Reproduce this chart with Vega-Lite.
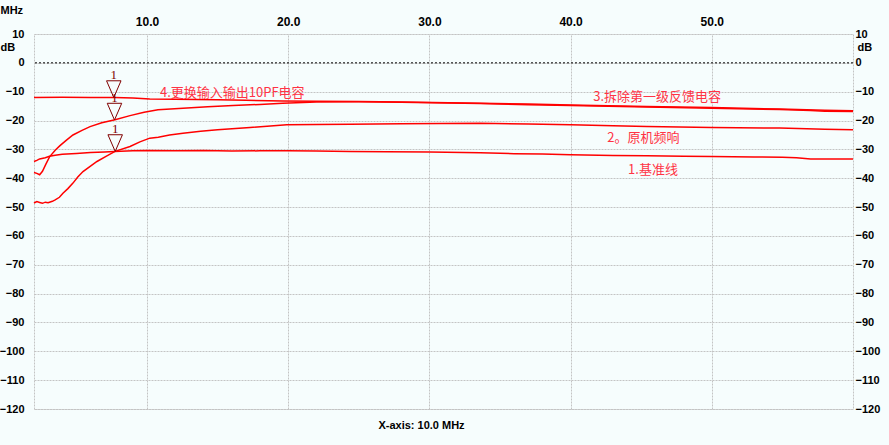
{
  "$schema": "https://vega.github.io/schema/vega-lite/v6.json",
  "width": 819,
  "height": 375,
  "autosize": "none",
  "padding": {"left": 34, "top": 34, "right": 36, "bottom": 36},
  "background": "#f6fdfd",
  "view": {"stroke": "#c4c4c4", "strokeDash": [2, 1], "strokeWidth": 1, "fill": "#f6fdfd"},
  "title": {"text": "X-axis: 10.0 MHz", "orient": "bottom", "anchor": "middle", "dx": -22, "offset": 6, "font": "Liberation Sans", "fontSize": 11, "fontWeight": "bold", "color": "#000000", "baseline": "top"},
  "config": {
    "axis": {"labelFont": "Liberation Sans", "labelFontSize": 11, "labelFontWeight": "bold", "labelColor": "#000000", "titleFont": "Liberation Sans", "titleFontSize": 11, "titleFontWeight": "bold", "titleColor": "#000000", "ticks": false, "domain": false, "gridColor": "#c4c4c4", "gridDash": [2, 1], "gridWidth": 1, "labelOverlap": false, "labelFlush": false}
  },
  "datasets": {
    "curves": [
      {"f": 2.0, "db": -34.2, "s": "1"}, {"f": 2.2, "db": -33.8, "s": "1"}, {"f": 2.4, "db": -33.3, "s": "1"}, {"f": 2.8, "db": -32.9, "s": "1"}, {"f": 3.1, "db": -32.4, "s": "1"}, {"f": 3.5, "db": -32.0, "s": "1"}, {"f": 4.0, "db": -31.7, "s": "1"}, {"f": 5.0, "db": -31.4, "s": "1"}, {"f": 6.0, "db": -31.1, "s": "1"}, {"f": 7.0, "db": -30.9, "s": "1"}, {"f": 7.7, "db": -30.7, "s": "1"}, {"f": 9.0, "db": -30.5, "s": "1"}, {"f": 10.0, "db": -30.4, "s": "1"}, {"f": 12, "db": -30.5, "s": "1"}, {"f": 14, "db": -30.4, "s": "1"}, {"f": 16, "db": -30.6, "s": "1"}, {"f": 18, "db": -30.5, "s": "1"}, {"f": 20, "db": -30.5, "s": "1"}, {"f": 22, "db": -30.6, "s": "1"}, {"f": 24.4, "db": -30.7, "s": "1"}, {"f": 27, "db": -30.8, "s": "1"}, {"f": 30, "db": -30.9, "s": "1"}, {"f": 33.6, "db": -31.2, "s": "1"}, {"f": 36, "db": -31.5, "s": "1"}, {"f": 38, "db": -31.6, "s": "1"}, {"f": 40, "db": -31.9, "s": "1"}, {"f": 43, "db": -32.1, "s": "1"}, {"f": 45.4, "db": -32.2, "s": "1"}, {"f": 48, "db": -32.4, "s": "1"}, {"f": 50, "db": -32.5, "s": "1"}, {"f": 53, "db": -32.6, "s": "1"}, {"f": 55, "db": -32.7, "s": "1"}, {"f": 56, "db": -32.9, "s": "1"}, {"f": 57, "db": -33.3, "s": "1"}, {"f": 60, "db": -33.3, "s": "1"},
      {"f": 2.0, "db": -48.6, "s": "2"}, {"f": 2.2, "db": -48.1, "s": "2"}, {"f": 2.4, "db": -48.4, "s": "2"}, {"f": 2.6, "db": -48.7, "s": "2"}, {"f": 2.8, "db": -48.3, "s": "2"}, {"f": 3.0, "db": -48.5, "s": "2"}, {"f": 3.3, "db": -48.0, "s": "2"}, {"f": 3.5, "db": -47.5, "s": "2"}, {"f": 3.8, "db": -46.6, "s": "2"}, {"f": 4.05, "db": -45.2, "s": "2"}, {"f": 4.4, "db": -43.6, "s": "2"}, {"f": 4.76, "db": -41.7, "s": "2"}, {"f": 5.1, "db": -39.6, "s": "2"}, {"f": 5.47, "db": -37.7, "s": "2"}, {"f": 6.0, "db": -35.8, "s": "2"}, {"f": 6.46, "db": -34.2, "s": "2"}, {"f": 7.1, "db": -32.4, "s": "2"}, {"f": 7.74, "db": -30.7, "s": "2"}, {"f": 8.8, "db": -29.0, "s": "2"}, {"f": 9.5, "db": -27.4, "s": "2"}, {"f": 10.2, "db": -26.1, "s": "2"}, {"f": 10.8, "db": -25.8, "s": "2"}, {"f": 11.6, "db": -25.0, "s": "2"}, {"f": 12.55, "db": -24.4, "s": "2"}, {"f": 13.8, "db": -23.7, "s": "2"}, {"f": 15, "db": -23.2, "s": "2"}, {"f": 17.3, "db": -22.4, "s": "2"}, {"f": 19.9, "db": -21.5, "s": "2"}, {"f": 22, "db": -21.4, "s": "2"}, {"f": 24.4, "db": -21.3, "s": "2"}, {"f": 28, "db": -21.1, "s": "2"}, {"f": 33.6, "db": -20.9, "s": "2"}, {"f": 37, "db": -21.2, "s": "2"}, {"f": 40, "db": -21.5, "s": "2"}, {"f": 43, "db": -21.8, "s": "2"}, {"f": 45.4, "db": -22.1, "s": "2"}, {"f": 50, "db": -22.4, "s": "2"}, {"f": 54.8, "db": -22.6, "s": "2"}, {"f": 58, "db": -23.0, "s": "2"}, {"f": 60, "db": -23.2, "s": "2"},
      {"f": 2.0, "db": -38.0, "s": "3"}, {"f": 2.2, "db": -38.3, "s": "3"}, {"f": 2.4, "db": -38.8, "s": "3"}, {"f": 2.6, "db": -37.6, "s": "3"}, {"f": 2.85, "db": -35.0, "s": "3"}, {"f": 3.1, "db": -32.6, "s": "3"}, {"f": 3.5, "db": -30.3, "s": "3"}, {"f": 3.84, "db": -28.7, "s": "3"}, {"f": 4.3, "db": -26.8, "s": "3"}, {"f": 4.76, "db": -25.0, "s": "3"}, {"f": 5.4, "db": -23.4, "s": "3"}, {"f": 5.97, "db": -22.1, "s": "3"}, {"f": 6.8, "db": -20.8, "s": "3"}, {"f": 7.74, "db": -19.7, "s": "3"}, {"f": 8.8, "db": -18.3, "s": "3"}, {"f": 9.8, "db": -17.1, "s": "3"}, {"f": 10.78, "db": -16.3, "s": "3"}, {"f": 12.55, "db": -15.7, "s": "3"}, {"f": 14.3, "db": -15.2, "s": "3"}, {"f": 16.1, "db": -14.8, "s": "3"}, {"f": 18, "db": -14.4, "s": "3"}, {"f": 19.6, "db": -14.0, "s": "3"}, {"f": 22, "db": -13.6, "s": "3"}, {"f": 25, "db": -13.5, "s": "3"}, {"f": 28, "db": -13.7, "s": "3"}, {"f": 33.6, "db": -14.1, "s": "3"}, {"f": 37, "db": -14.5, "s": "3"}, {"f": 40, "db": -14.8, "s": "3"}, {"f": 45.4, "db": -15.3, "s": "3"}, {"f": 50, "db": -15.7, "s": "3"}, {"f": 54.8, "db": -16.2, "s": "3"}, {"f": 57, "db": -16.5, "s": "3"}, {"f": 58, "db": -16.8, "s": "3"}, {"f": 60, "db": -16.9, "s": "3"},
      {"f": 2.0, "db": -12.0, "s": "4"}, {"f": 4, "db": -11.9, "s": "4"}, {"f": 6, "db": -12.0, "s": "4"}, {"f": 7.7, "db": -12.0, "s": "4"}, {"f": 9, "db": -12.2, "s": "4"}, {"f": 10.2, "db": -12.5, "s": "4"}, {"f": 12, "db": -12.6, "s": "4"}, {"f": 15, "db": -12.8, "s": "4"}, {"f": 17, "db": -13.0, "s": "4"}, {"f": 19.6, "db": -13.2, "s": "4"}, {"f": 22, "db": -13.3, "s": "4"}, {"f": 25, "db": -13.4, "s": "4"}, {"f": 28, "db": -13.6, "s": "4"}, {"f": 33.6, "db": -14.0, "s": "4"}, {"f": 37, "db": -14.3, "s": "4"}, {"f": 40, "db": -14.6, "s": "4"}, {"f": 45.4, "db": -15.1, "s": "4"}, {"f": 50, "db": -15.5, "s": "4"}, {"f": 54.8, "db": -16.0, "s": "4"}, {"f": 58, "db": -16.4, "s": "4"}, {"f": 60, "db": -16.6, "s": "4"}
    ],
    "markers": [
      {"f": 7.65, "db": -12.0, "label": "1"},
      {"f": 7.7, "db": -19.8, "label": "1"},
      {"f": 7.75, "db": -30.7, "label": "1"}
    ],
    "notes": [
      {"f": 10.92, "db": -10.4, "text": "4.更换输入输出10PF电容"},
      {"f": 41.6, "db": -12.0, "text": "3.拆除第一级反馈电容"},
      {"f": 42.6, "db": -26.1, "text": "2。原机频响"},
      {"f": 44.07, "db": -37.2, "text": "1.基准线"}
    ]
  },
  "layer": [
    {
      "data": {"name": "curves"},
      "mark": {"type": "line", "color": "#ff0000", "strokeWidth": 1.5, "interpolate": "linear"},
      "encoding": {
        "x": {"field": "f", "type": "quantitative", "scale": {"domain": [2, 60], "nice": false, "zero": false},
          "axis": {"orient": "top", "values": [10, 20, 30, 40, 50], "format": ".1f", "labelPadding": 6, "labelFontSize": 12, "grid": true, "title": "MHz", "titleX": -34, "titleY": -30, "titleAlign": "left", "titleBaseline": "top"}},
        "y": {"field": "db", "type": "quantitative", "scale": {"domain": [-120, 10], "nice": false, "zero": false},
          "axis": {"orient": "left", "values": [10, 0, -10, -20, -30, -40, -50, -60, -70, -80, -90, -100, -110, -120], "labelPadding": 10, "grid": true, "title": "dB", "titleAngle": 0, "titleX": -34, "titleY": 7, "titleAlign": "left", "titleBaseline": "top"}},
        "detail": {"field": "s"}
      }
    },
    {
      "data": {"values": [{"db": 0}]},
      "mark": {"type": "rule", "color": "#000000", "strokeDash": [2, 2], "strokeWidth": 1},
      "encoding": {
        "y": {"field": "db", "type": "quantitative",
          "axis": {"orient": "right", "values": [10, 0, -10, -20, -30, -40, -50, -60, -70, -80, -90, -100, -110, -120], "labelPadding": 2, "grid": false, "title": "dB", "titleAngle": 0, "titleX": 4, "titleY": 7, "titleAlign": "left", "titleBaseline": "top"}}
      }
    },
    {
      "data": {"name": "markers"},
      "mark": {"type": "point", "shape": "M -1 -2.3 L 1 -2.3 L 0 0 Z", "size": 210, "filled": false, "stroke": "#800000", "strokeWidth": 1, "opacity": 1},
      "encoding": {
        "x": {"field": "f", "type": "quantitative"},
        "y": {"field": "db", "type": "quantitative", "axis": null}
      }
    },
    {
      "data": {"name": "markers"},
      "mark": {"type": "text", "dy": -22, "color": "#800000", "font": "Liberation Serif", "fontSize": 13, "baseline": "middle", "align": "center"},
      "encoding": {
        "x": {"field": "f", "type": "quantitative"},
        "y": {"field": "db", "type": "quantitative", "axis": null},
        "text": {"field": "label"}
      }
    },
    {
      "data": {"name": "notes"},
      "mark": {"type": "text", "color": "#ff3344", "font": "Noto Sans CJK SC", "fontSize": 13, "baseline": "middle", "align": "left"},
      "encoding": {
        "x": {"field": "f", "type": "quantitative"},
        "y": {"field": "db", "type": "quantitative", "axis": null},
        "text": {"field": "text"}
      }
    }
  ],
  "resolve": {"axis": {"y": "independent"}}
}
